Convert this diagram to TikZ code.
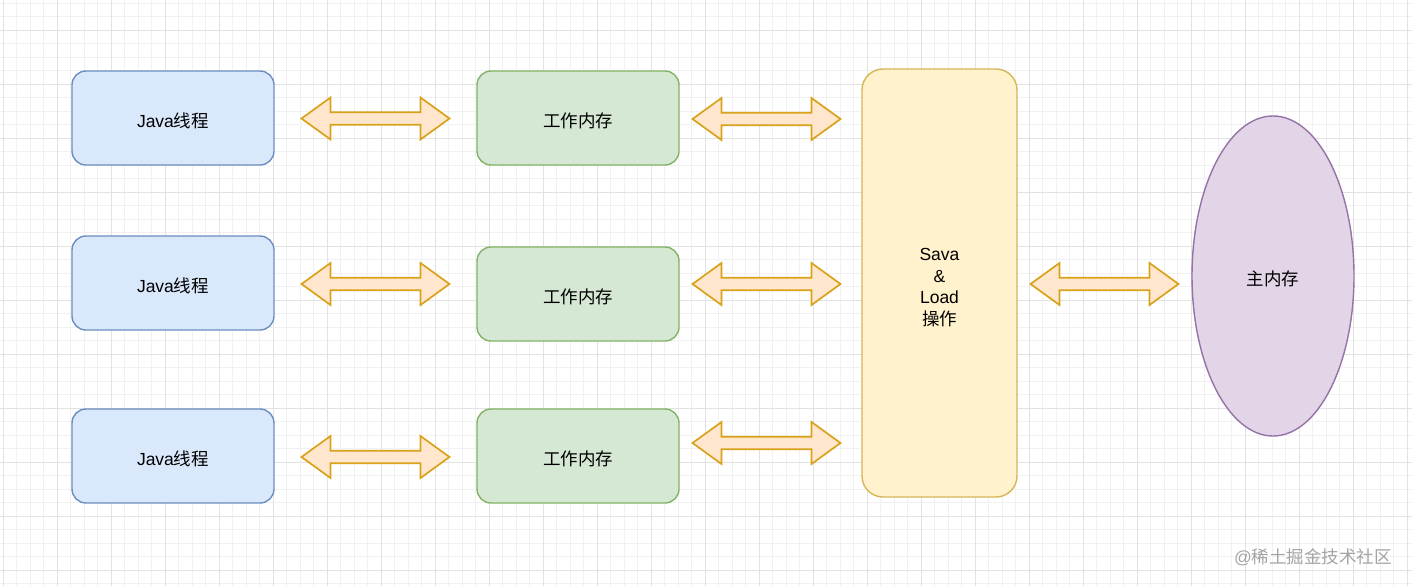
\documentclass[tikz,border=0pt]{standalone}
\usepackage{fontspec}
\setmainfont{Liberation Sans}
\newfontfamily\cjk{Noto Sans CJK SC}
\usetikzlibrary{shapes.geometric}
\definecolor{gridminor}{HTML}{F1F1F1}
\definecolor{gridmajor}{HTML}{E2E2E2}
\definecolor{bluefill}{HTML}{DAE8FC}
\definecolor{bluedraw}{HTML}{6C8EBF}
\definecolor{greenfill}{HTML}{D5E8D4}
\definecolor{greendraw}{HTML}{82B366}
\definecolor{yelfill}{HTML}{FFF2CC}
\definecolor{yeldraw}{HTML}{D6B656}
\definecolor{purfill}{HTML}{E1D5E7}
\definecolor{purdraw}{HTML}{9673A6}
\definecolor{arrfill}{HTML}{FFE6CC}
\definecolor{arrdraw}{HTML}{D9A21B}
\definecolor{wmark}{HTML}{A4A4A4}
\tikzset{
  txt/.style={font=\fontsize{17.5}{21.5}\selectfont, text=black, align=center, inner sep=0pt},
  thread/.style={draw=bluedraw, fill=bluefill, line width=1.4pt, rounded corners=14pt, minimum width=202pt, minimum height=94pt, inner sep=0pt},
  work/.style={draw=greendraw, fill=greenfill, line width=1.4pt, rounded corners=14pt, minimum width=202pt, minimum height=94pt, inner sep=0pt},
  savebox/.style={draw=yeldraw, fill=yelfill, line width=1.4pt, rounded corners=21pt, minimum width=155pt, minimum height=428pt, inner sep=0pt},
  mainmem/.style={ellipse, draw=purdraw, fill=purfill, line width=1.4pt, minimum width=162pt, minimum height=320pt, inner sep=0pt},
  arrstyle/.style={draw=arrdraw, fill=arrfill, line width=1.7pt, line join=miter},
  dblarrow/.pic={\path[arrstyle] (-74,0) -- (-45,21) -- (-45,6.2) -- (45,6.2) -- (45,21) -- (74,0) -- (45,-21) -- (45,-6.2) -- (-45,-6.2) -- (-45,-21) -- cycle;}
}
\begin{document}
\begin{tikzpicture}[x=1pt,y=-1pt]
\useasboundingbox (0,0) rectangle (1412,586);
\fill[white] (0,0) rectangle (1412,586);
% grid
\foreach \k in {0,...,104} \draw[gridminor, line width=0.8pt] ({3+13.5*\k},0) -- ({3+13.5*\k},586);
\foreach \k in {0,...,43} \draw[gridminor, line width=0.8pt] (0,{3+13.5*\k}) -- (1412,{3+13.5*\k});
\foreach \k in {0,...,26} \draw[gridmajor, line width=0.8pt] ({3+54*\k},0) -- ({3+54*\k},586);
\foreach \k in {0,...,10} \draw[gridmajor, line width=0.8pt] (0,{30+54*\k}) -- (1412,{30+54*\k});

% boxes
\node[thread] (t1) at (173,118) {};
\node[thread] (t2) at (173,283) {};
\node[thread] (t3) at (173,456) {};
\node[work] (w1) at (578,118) {};
\node[work] (w2) at (578,294) {};
\node[work] (w3) at (578,456) {};
\node[savebox] (s) at (939.5,283) {};
\node[mainmem] (m) at (1273,276) {};

% labels
\node[txt] (t1l) at ([yshift=-3pt]t1.center) {Java{\cjk 线程}};
\node[txt] (t2l) at ([yshift=-3pt]t2.center) {Java{\cjk 线程}};
\node[txt] (t3l) at ([yshift=-3pt]t3.center) {Java{\cjk 线程}};
\node[txt] (w1l) at ([yshift=-3pt]w1.center) {{\cjk 工作内存}};
\node[txt] (w2l) at ([yshift=-3pt]w2.center) {{\cjk 工作内存}};
\node[txt] (w3l) at ([yshift=-3pt]w3.center) {{\cjk 工作内存}};
\node[txt] (sl) at ([yshift=-4.5pt]s.center) {Sava\\\&\\Load\\{\cjk 操作}};
\node[txt] (ml) at ([yshift=-2.5pt]m.center) {{\cjk 主内存}};

% block arrows
\pic at (375.5,118.5) {dblarrow};
\pic at (375.5,284) {dblarrow};
\pic at (375.5,457) {dblarrow};
\pic at (766.5,119) {dblarrow};
\pic at (766.5,284) {dblarrow};
\pic at (766.5,443) {dblarrow};
\pic at (1104.5,284) {dblarrow};

% watermark
\node[font=\fontsize{17.5}{20}\selectfont, text=wmark, inner sep=0pt] (wm) at (1313,557.5) {@{\cjk 稀土掘金技术社区}};
\end{tikzpicture}
\end{document}
